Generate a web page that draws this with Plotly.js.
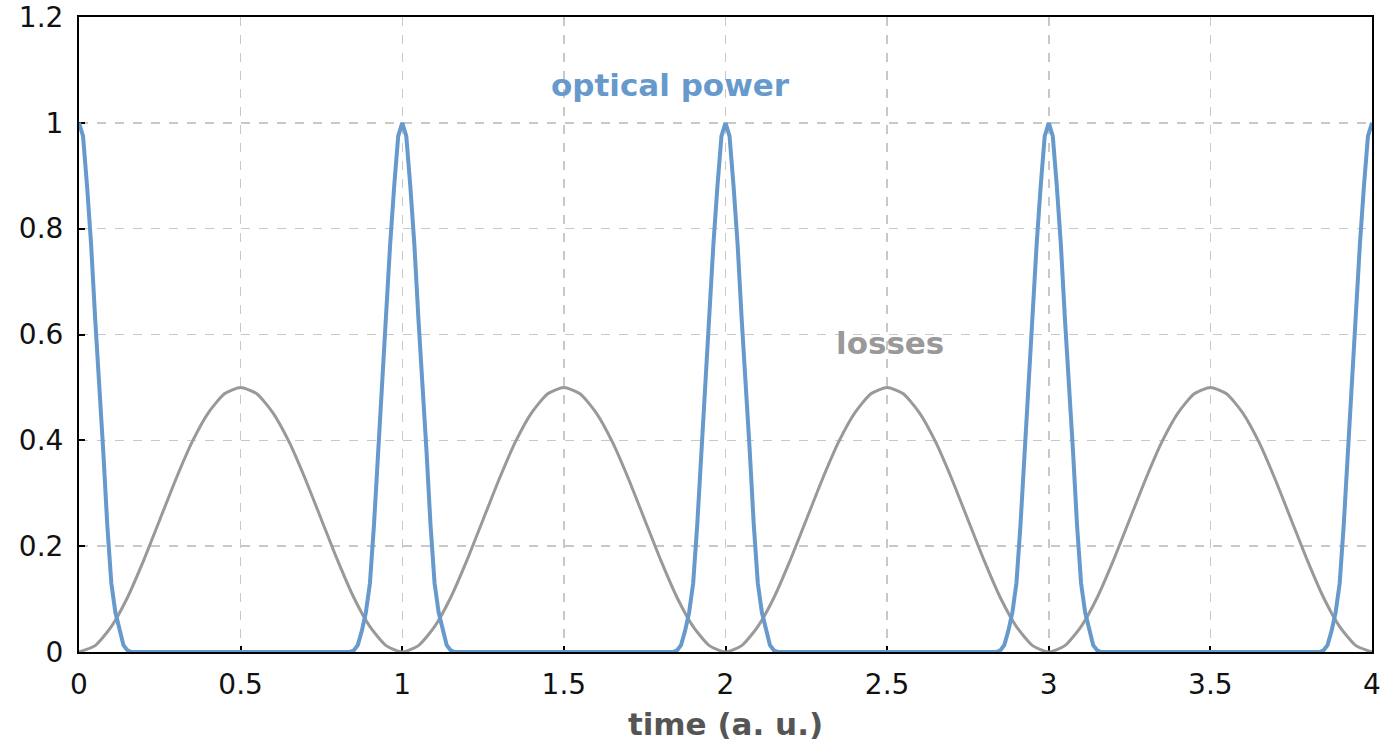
<!DOCTYPE html>
<html>
<head>
<meta charset="utf-8">
<script src="https://cdn.plot.ly/plotly-3.0.1.min.js"></script>
<style>html,body{margin:0;padding:0;background:#fff;}#chart{width:1383px;height:744px;}</style>
</head>
<body>
<div id="chart"></div>
<script>
// optical power (pulses around each integer time)
var powerX = [
  0,0.0125,0.025,0.0375,0.05,0.0625,0.075,0.0875,0.1,0.1125,0.125,0.1375,0.15,0.1625,
  0.8375,0.85,0.8625,0.875,0.8875,0.9,0.9125,0.925,0.9375,0.95,0.9625,0.975,0.9875,1,1.0125,1.025,1.0375,1.05,1.0625,1.075,1.0875,1.1,1.1125,1.125,1.1375,1.15,1.1625,
  1.8375,1.85,1.8625,1.875,1.8875,1.9,1.9125,1.925,1.9375,1.95,1.9625,1.975,1.9875,2,2.0125,2.025,2.0375,2.05,2.0625,2.075,2.0875,2.1,2.1125,2.125,2.1375,2.15,2.1625,
  2.8375,2.85,2.8625,2.875,2.8875,2.9,2.9125,2.925,2.9375,2.95,2.9625,2.975,2.9875,3,3.0125,3.025,3.0375,3.05,3.0625,3.075,3.0875,3.1,3.1125,3.125,3.1375,3.15,3.1625,
  3.8375,3.85,3.8625,3.875,3.8875,3.9,3.9125,3.925,3.9375,3.95,3.9625,3.975,3.9875,4
];
var powerY = [
  1,0.975,0.88,0.77,0.63,0.51,0.38,0.24,0.13,0.075,0.04,0.013,0.003,0,
  0,0.003,0.013,0.04,0.075,0.13,0.24,0.38,0.51,0.63,0.77,0.88,0.975,1,0.975,0.88,0.77,0.63,0.51,0.38,0.24,0.13,0.075,0.04,0.013,0.003,0,
  0,0.003,0.013,0.04,0.075,0.13,0.24,0.38,0.51,0.63,0.77,0.88,0.975,1,0.975,0.88,0.77,0.63,0.51,0.38,0.24,0.13,0.075,0.04,0.013,0.003,0,
  0,0.003,0.013,0.04,0.075,0.13,0.24,0.38,0.51,0.63,0.77,0.88,0.975,1,0.975,0.88,0.77,0.63,0.51,0.38,0.24,0.13,0.075,0.04,0.013,0.003,0,
  0,0.003,0.013,0.04,0.075,0.13,0.24,0.38,0.51,0.63,0.77,0.88,0.975,1
];
// losses (humps between pulses)
var lossX = [
  0,0.05,0.1,0.15,0.2,0.25,0.3,0.35,0.4,0.45,0.5,0.55,0.6,0.65,0.7,0.75,0.8,0.85,0.9,0.95,
  1,1.05,1.1,1.15,1.2,1.25,1.3,1.35,1.4,1.45,1.5,1.55,1.6,1.65,1.7,1.75,1.8,1.85,1.9,1.95,
  2,2.05,2.1,2.15,2.2,2.25,2.3,2.35,2.4,2.45,2.5,2.55,2.6,2.65,2.7,2.75,2.8,2.85,2.9,2.95,
  3,3.05,3.1,3.15,3.2,3.25,3.3,3.35,3.4,3.45,3.5,3.55,3.6,3.65,3.7,3.75,3.8,3.85,3.9,3.95,4
];
var lossY = [
  0,0.012,0.048,0.103,0.173,0.25,0.327,0.397,0.452,0.488,0.5,0.488,0.452,0.397,0.327,0.25,0.173,0.103,0.048,0.012,
  0,0.012,0.048,0.103,0.173,0.25,0.327,0.397,0.452,0.488,0.5,0.488,0.452,0.397,0.327,0.25,0.173,0.103,0.048,0.012,
  0,0.012,0.048,0.103,0.173,0.25,0.327,0.397,0.452,0.488,0.5,0.488,0.452,0.397,0.327,0.25,0.173,0.103,0.048,0.012,
  0,0.012,0.048,0.103,0.173,0.25,0.327,0.397,0.452,0.488,0.5,0.488,0.452,0.397,0.327,0.25,0.173,0.103,0.048,0.012,0
];
var xTicks = [0,0.5,1,1.5,2,2.5,3,3.5,4];
var xTickText = ['0','0.5','1','1.5','2','2.5','3','3.5','4'];
var yTicks = [0,0.2,0.4,0.6,0.8,1,1.2];
var yTickText = ['0','0.2','0.4','0.6','0.8','1','1.2'];
var labelPower = 'optical power';
var labelLosses = 'losses';
var xTitle = 'time (a. u.)';

var blue = '#6699cc';
var gray = '#999999';
var font = 'DejaVu Sans, Verdana, sans-serif';

var traces = [
  {x: lossX, y: lossY, type: 'scatter', mode: 'lines', line: {color: gray, width: 3, shape: 'spline', smoothing: 0.6}, hoverinfo: 'skip'},
  {x: powerX, y: powerY, type: 'scatter', mode: 'lines', line: {color: blue, width: 4}, hoverinfo: 'skip'}
];

var axisCommon = {
  showline: true, linecolor: '#000', linewidth: 2, mirror: true,
  ticks: 'inside', ticklen: 6, tickwidth: 2, tickcolor: '#000',
  showgrid: true, gridcolor: '#c8c8c8', gridwidth: 1.5, griddash: 'dash',
  zeroline: false, layer: 'below traces',
  tickfont: {family: font, size: 28, color: '#111'}
};

var layout = {
  width: 1383, height: 744,
  margin: {l: 79, r: 11, t: 17, b: 92},
  paper_bgcolor: '#fff', plot_bgcolor: '#fff',
  showlegend: false,
  xaxis: Object.assign({}, axisCommon, {
    range: [0, 4], tickvals: xTicks, ticktext: xTickText, ticklabelstandoff: 6,
    title: {text: xTitle, font: {family: font, size: 31, color: '#555', weight: 'bold'}, standoff: 14}
  }),
  yaxis: Object.assign({}, axisCommon, {
    range: [0, 1.2], tickvals: yTicks, ticktext: yTickText, ticklabelstandoff: 8
  }),
  annotations: [
    {x: 1.83, y: 1.072, xref: 'x', yref: 'y', text: labelPower, showarrow: false,
     font: {family: font, size: 31, color: blue, weight: 'bold'}},
    {x: 2.51, y: 0.584, xref: 'x', yref: 'y', text: labelLosses, showarrow: false,
     font: {family: font, size: 31, color: gray, weight: 'bold'}}
  ]
};

Plotly.newPlot('chart', traces, layout, {displayModeBar: false, staticPlot: true});
</script>
</body>
</html>
